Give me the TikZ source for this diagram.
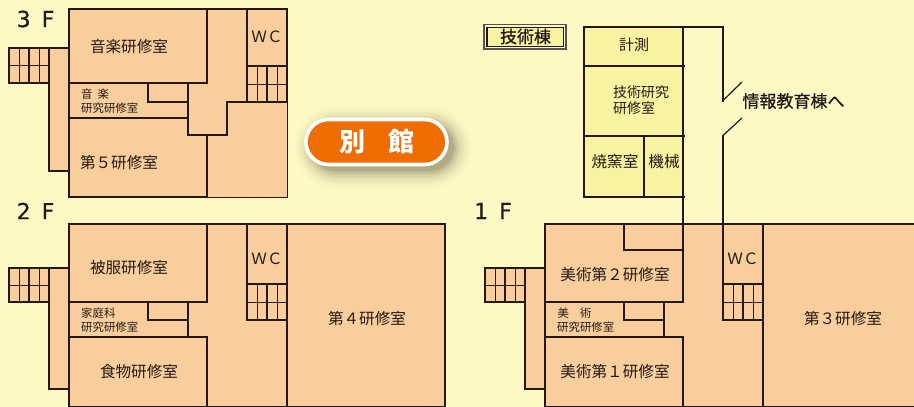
\documentclass[tikz,border=0pt]{standalone}
\usepackage{fontspec}
\setmainfont{Noto Sans CJK JP}
\newfontfamily\latinf[FakeBold=0.6]{DejaVu Sans}
\newfontfamily\medf[FakeBold=0.6]{Noto Sans CJK JP}
\definecolor{bgc}{HTML}{FEF9C4}
\definecolor{roomc}{HTML}{F8CF9C}
\definecolor{annexc}{HTML}{F8F3A0}
\definecolor{wallc}{HTML}{231815}
\definecolor{pillc}{HTML}{EE6C00}
\newcommand{\stairblock}[3]{%
  \begin{scope}[shift={(#1,#2)}]
    \fill[roomc] (0,0) rectangle (40,#3);
    \draw[thin wall] (0,{#3/2}) -- (40,{#3/2});
    \draw[thin wall] (10,0) -- (10,#3) (30,0) -- (30,#3);
    \draw[wall] (20,0) -- (20,#3);
    \draw[wall] (0,0) rectangle (40,#3);
  \end{scope}}
\tikzset{
  wall/.style={draw=wallc,line width=1.9pt,line cap=rect,line join=miter},
  thin wall/.style={draw=wallc,line width=0.9pt},
  hair wall/.style={draw=wallc,line width=0.7pt},
  room/.style={fill=roomc},
  label/.style={text=wallc,inner sep=0pt,font=\fontsize{15.6pt}{16pt}\selectfont},
  annexlabel/.style={text=wallc,inner sep=0pt,font=\fontsize{14pt}{15pt}\selectfont},
  small/.style={text=wallc,inner sep=0pt,anchor=west,font=\fontsize{11.4pt}{12pt}\selectfont},
  floor/.style={text=wallc,inner sep=0pt,font=\latinf\fontsize{22pt}{22pt}\selectfont},
  heading/.style={text=wallc,inner sep=0pt,font=\medf\fontsize{17pt}{17pt}\selectfont},
}
\begin{document}
\begin{tikzpicture}[x=1pt,y=-1pt]
\fill[bgc] (0,0) rectangle (914,407);
\useasboundingbox (0,0) rectangle (914,407);
% ---- 3F
\fill[room] (69,9) -| (287,197) -| (69,171) -| (49,48) -| cycle;
\draw[hair wall] (207,197) -- (287,197) -- (287,102);
\draw[wall] (69,9) -- (287,9) -- (287,102) -- (227,102) -- (227,135) -- (188,135) -- (188,83);
\draw[wall] (69,9) -- (69,197) -- (207,197) -- (207,135);
\draw[wall] (207,9) -- (207,83) -- (69,83);
\draw[wall] (148,83) -- (148,102) -- (188,102);
\draw[wall] (69,118) -- (188,118);
\draw[wall] (247,9) -- (247,102);
\draw[wall] (247,66) -- (287,66);
\stairblock{247}{66}{36}
\draw[wall] (69,48) -- (49,48) -- (49,171) -- (69,171);
\stairblock{9}{48}{35}
% ---- 2F
\fill[room] (69,224) rectangle (445,407);
\fill[room] (49,268) rectangle (69,389);
\draw[wall] (69,224) -- (445,224) -- (445,406.5) -- (69,406.5) -- cycle;
\draw[wall] (207,224) -- (207,302) -- (69,302);
\draw[wall] (188,302) -- (188,337);
\draw[wall] (69,337) -- (207,337) -- (207,407);
\draw[wall] (148,302) -- (148,320) -- (188,320);
\draw[wall] (247,224) -- (247,320);
\draw[wall] (287,224) -- (287,407);
\stairblock{247}{284}{36}
\draw[wall] (69,268) -- (49,268) -- (49,389) -- (69,389);
\stairblock{9}{268}{34}
% ---- 1F
\fill[room] (545,224) rectangle (914,407);
\fill[room] (525,268) rectangle (545,389);
\draw[wall] (916,224) -- (545,224) -- (545,406.5) -- (916,406.5);
\draw[wall] (624,224) -- (624,250) -- (683,250);
\draw[wall] (683,224) -- (683,302) -- (545,302);
\draw[wall] (664,302) -- (664,337);
\draw[wall] (545,337) -- (683,337) -- (683,407);
\draw[wall] (624,302) -- (624,320) -- (664,320);
\draw[wall] (723,224) -- (723,320);
\draw[wall] (763,224) -- (763,407);
\stairblock{723}{284}{36}
\draw[wall] (545,268) -- (525,268) -- (525,389) -- (545,389);
\stairblock{485}{268}{34}
% ---- annex
\fill[annexc] (584,27) rectangle (683,197);
\draw[wall] (684,66) -- (584,66);
\draw[wall] (684,136) -- (584,136);
\draw[wall] (644,136) -- (644,197);
\draw[wall] (684,197) -- (584,197) -- (584,27) -- (723,27) -- (723,101);
\draw[wall] (683,27) -- (683,224);
\draw[wall] (723,135.5) -- (723,224);
\coordinate (gapa) at (723,100.5);
\coordinate (gapb) at (742,82);
\coordinate (gapc) at (723,135.5);
\coordinate (gapd) at (742,118);
\draw[thin wall,line width=1.2pt] (gapa) -- (gapb);
\draw[thin wall,line width=1.2pt] (gapc) -- (gapd);
% ---- annex title
\draw[draw=wallc!75,line width=1.2pt,fill=bgc] (484,24.7) rectangle (566,49);
\draw[wall,line width=1.5pt,fill=annexc] (487,27.5) rectangle (563.5,46.5);
\node[heading] (annextitle) at (525.5,36.5) {技術棟};
% ---- pill
\foreach \g/\o in {18/0.012,16/0.015,14/0.02,12/0.025,10/0.03,8/0.04,6/0.05,4/0.07,2/0.09,0/0.13}{
  \fill[black!70!olive,opacity=\o,rounded corners={24+\g}] (312-\g,124-\g) rectangle (454+\g,171+\g);
}
\draw[draw=white,fill=pillc,line width=3.6pt,rounded corners=22.5pt] (306,119.5) rectangle (447,164.5);
\node[text=white,inner sep=0pt,font=\bfseries\fontsize{26pt}{26pt}\selectfont] (annexname) at (377,142) {別\hspace{23pt}館};
% ---- labels
\node[floor] (f3) at (35.5,19) {3\hspace{11pt}F};
\node[floor] (f2) at (35.5,211) {2\hspace{11pt}F};
\node[floor] (f1) at (493,211) {1\hspace{11pt}F};
\node[label] (r1) at (129,46.5) {音楽研修室};
\node[small] (r2) at (81,94.5) {音\hspace{5pt}楽};
\node[small] (r3) at (81,108) {研究研修室};
\node[label] (r4) at (119,163) {第５研修室};
\node[label] (w3) at (267,37) {ＷＣ};
\node[label] (r5) at (129,267.5) {被服研修室};
\node[small] (r6) at (81,313) {家庭科};
\node[small] (r7) at (81,327) {研究研修室};
\node[label] (r8) at (139,371.5) {食物研修室};
\node[label] (w2) at (267,258.5) {ＷＣ};
\node[label] (r9) at (367,319) {第４研修室};
\node[label] (r10) at (615,275) {美術第２研修室};
\node[small] (r11) at (557.5,313) {美\hspace{11pt}術};
\node[small] (r12) at (557,327) {研究研修室};
\node[label] (r13) at (615,371.5) {美術第１研修室};
\node[label] (w1) at (743,258.5) {ＷＣ};
\node[label] (r14) at (843,319) {第３研修室};
\node[annexlabel,font=\fontsize{15pt}{15pt}\selectfont] (a1) at (634,45) {計測};
\node[annexlabel,anchor=west] (a2) at (613,92) {技術研究};
\node[annexlabel,anchor=west] (a3) at (613,108) {研修室};
\node[label] (a4) at (615,162) {焼窯室};
\node[label] (a5) at (664,162) {機械};
\node[heading] (toinfo) at (793.5,101) {情報教育棟へ};
\end{tikzpicture}
\end{document}
